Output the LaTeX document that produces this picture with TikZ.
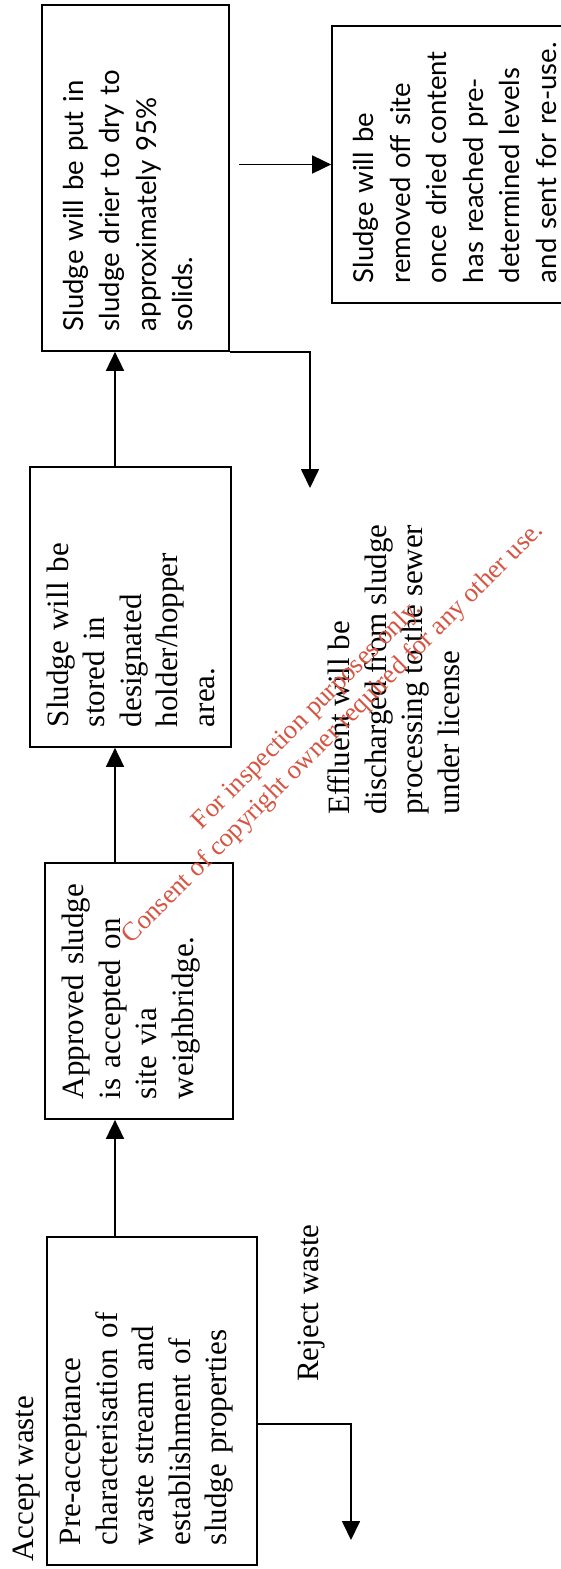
\documentclass[tikz,border=0pt]{standalone}
\usepackage{fontspec}
\setmainfont{Liberation Serif}
\newfontfamily\optimafont{Lato}
\usetikzlibrary{arrows.meta, calc}

\definecolor{stampred}{RGB}{214,84,66}

\begin{document}
\begin{tikzpicture}[
    x=1pt, y=-1pt,
    >={Triangle[length=19pt,width=18pt]},
    % Styles
    box/.style={
        rectangle,
        draw,
        line width=1.7pt,
        rotate=90,
        align=left,
        inner xsep=20pt,
        inner ysep=0pt,
        font=\fontsize{31}{36.5}\selectfont
    },
    drybox/.style={
        box,
        font=\optimafont\fontsize{27.5}{36.5}\selectfont
    },
    note/.style={
        rotate=90,
        align=left,
        inner sep=0pt,
        anchor=base west,
        font=\fontsize{31}{36.5}\selectfont
    },
    stamp/.style={
        rotate=45,
        inner sep=0pt,
        anchor=base,
        text=stampred,
        font=\fontsize{26.5}{30}\selectfont
    },
    arrow/.style={
        ->,
        line width=1.7pt
    }
]
    \useasboundingbox (0,0) rectangle (561,1569);

    % Boxes
    \node[box, text width=288pt, text depth=163pt, minimum height=210pt] (precheck) at (152,1401)
        {Pre-acceptance\\characterisation of\\waste stream and\\establishment of\\sludge properties};
    \node[box, text width=216pt, text depth=132pt, minimum height=188pt] (weigh) at (139,991)
        {Approved sludge\\is accepted on\\site via\\weighbridge.};
    \node[box, text width=240pt, minimum height=201pt] (hopper) at (130.5,607)
        {Sludge will be\\stored in\\designated\\holder/hopper\\area.};
    \node[drybox, text width=306pt, text depth=125pt, minimum height=187pt] (drier) at (135.5,178)
        {Sludge will be put in\\sludge drier to dry to\\approximately 95\%\\solids.};
    \node[drybox, text width=237pt, minimum height=246pt] (removal) at (455,164.5)
        {Sludge will be\\removed off site\\once dried content\\has reached pre-\\determined levels\\\mbox{and sent for re-use.}};

    % Texts
    \node[note] (accept) at (33,1562) {Accept waste};
    \node[note] (reject) at (318,1382) {Reject waste};
    \node[note] (effluent) at (459,815)
        {Effluent will be\\discharged from sludge\\processing to the sewer\\under license};

    % Paths
    \coordinate (trunk) at (115,0);
    \coordinate (rejectend) at (351,1540);
    \coordinate (effluentend) at (310,488);
    \draw[arrow] (precheck.east -| trunk) -- (weigh.west -| trunk);
    \draw[arrow] (weigh.east -| trunk) -- (hopper.west -| trunk);
    \draw[arrow] (hopper.east -| trunk) -- (drier.west -| trunk);
    \draw[arrow] ($(drier.south |- removal.north)+(9pt,0pt)$) -- (removal.north);
    \draw[arrow] (drier.south west) -| (effluentend);
    \draw[arrow] ([yshift=-23pt]precheck.south) -| (rejectend);

    % Stamp
    \node[stamp] (stampa) at (312,720) {For inspection purposes only.};
    \node[stamp] (stampb) at (338,738) {Consent of copyright owner required for any other use.};
\end{tikzpicture}
\end{document}
